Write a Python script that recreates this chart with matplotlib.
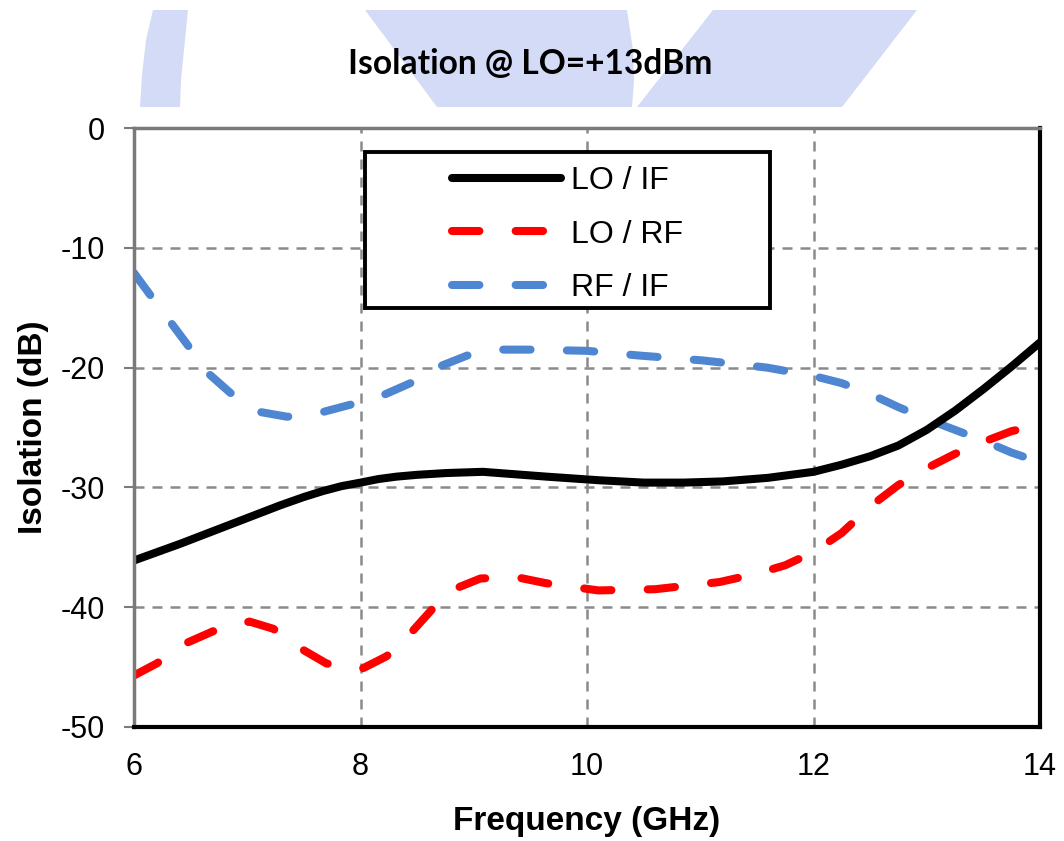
import matplotlib
matplotlib.use("Agg")
import matplotlib.pyplot as plt
from matplotlib.patches import Polygon, Rectangle

plt.rcParams["axes.unicode_minus"] = False

# data
freq_if = [6.0, 6.41, 6.85, 7.29, 7.5, 7.67, 7.83, 8.0, 8.16, 8.32, 8.5, 8.76, 9.08, 9.64, 10.1, 10.5, 10.85,
           11.2, 11.6, 12.0, 12.25, 12.5, 12.75, 13.0, 13.25, 13.5, 13.75, 14.0]
lo_if = [-36.1, -34.7, -33.1, -31.5, -30.8, -30.3, -29.9, -29.6, -29.3, -29.1, -28.95, -28.8, -28.7, -29.1, -29.4,
         -29.6, -29.6, -29.5, -29.2, -28.7, -28.1, -27.4, -26.5, -25.2, -23.6, -21.8, -19.9, -17.9]

freq_rf = [6.0, 6.2, 6.46, 6.7, 7.02, 7.23, 7.5, 7.7, 8.0, 8.23, 8.44, 8.63, 8.85, 9.06, 9.38, 9.64,
           10.1, 10.6, 11.17, 11.5, 11.75, 12.0, 12.25, 12.5, 12.75, 13.0, 13.25, 13.5, 13.75, 14.0]
lo_rf = [-45.7, -44.7, -43.0, -42.0, -41.2, -41.8, -43.6, -44.7, -45.2, -44.1, -42.2, -40.2, -38.4, -37.6, -37.5, -38.0,
         -38.6, -38.5, -37.9, -37.2, -36.5, -35.4, -33.8, -31.6, -29.8, -28.4, -27.2, -26.2, -25.3, -24.8]

freq_rfif = [6.0, 6.14, 6.33, 6.48, 6.67, 6.85, 7.11, 7.35, 7.5, 7.67, 7.91, 8.2, 8.44, 8.7, 8.94, 9.1, 9.23, 9.5,
             10.0, 10.47, 11.02, 11.59, 12.0, 12.25, 12.5, 12.75, 13.0, 13.25, 13.5, 13.75, 14.0]
rf_if = [-12.1, -13.9, -16.3, -18.2, -20.6, -22.1, -23.7, -24.1, -24.0, -23.7, -23.1, -22.3, -21.3, -19.9, -19.0,
         -18.7, -18.5, -18.5, -18.6, -19.0, -19.4, -20.0, -20.7, -21.3, -22.2, -23.3, -24.3, -25.2, -26.1, -27.1, -27.9]

x_ticks = [6, 8, 10, 12, 14]
y_ticks = [0, -10, -20, -30, -40, -50]
series_labels = ["LO / IF", "LO / RF", "RF / IF"]

W, H = 1064, 841
fig = plt.figure(figsize=(W / 100, H / 100), dpi=100)


def px(x, y):
    # pixel coords (top-left origin) -> figure fraction
    return (x / W, 1 - y / H)


# light blue logo watermark behind the title
wm = "#D3DBF7"
shapes = [
    [(153, 10), (188, 10), (184, 50), (181, 80), (180, 107), (140, 107), (142, 75), (146, 40)],
    [(365, 10), (627, 10), (633, 50), (634, 80), (632, 107), (437, 107)],
    [(713, 10), (917, 10), (842, 107), (637, 107)],
]
for pts in shapes:
    fig.add_artist(Polygon([px(*p) for p in pts], closed=True, facecolor=wm,
                           edgecolor="none", transform=fig.transFigure, zorder=0))

title = fig.text(530 / W, 1 - 74 / H, "Isolation @ LO=+13dBm", ha="center", va="baseline",
                 fontsize=25, fontweight="bold",
                 family=["Lato", "DejaVu Sans"], zorder=2)
# fit title to the reference width (~365 px)
fig.canvas.draw()
w = title.get_window_extent().width
title.set_fontsize(25 * 365 / w)

ax = fig.add_axes([134 / W, 1 - 727 / H, (1040 - 134) / W, (727 - 128) / H])

lw = 5.8
ax.plot(freq_if, lo_if, color="black", lw=lw, solid_capstyle="round", solid_joinstyle="round",
        zorder=4, label=series_labels[0])
ax.plot(freq_rf, lo_rf, color="#FF0000", lw=lw, dashes=(3.4, 4.5), dash_capstyle="round",
        dash_joinstyle="round", zorder=3, label=series_labels[1])
ax.plot(freq_rfif, rf_if, color="#4E86D2", lw=lw, dashes=(3.4, 4.5), dash_capstyle="round",
        dash_joinstyle="round", zorder=3, label=series_labels[2])

ax.set_xlim(6, 14)
ax.set_ylim(-50, 0)
ax.set_xticks(x_ticks)
ax.set_yticks(y_ticks)
ax.grid(True, color="#8a8a8a", lw=1.8, dashes=(4, 3.2))
ax.set_axisbelow(True)

for s in ["left", "top"]:
    ax.spines[s].set_color("#7a7a7a")
    ax.spines[s].set_linewidth(2.5)
for s in ["right", "bottom"]:
    ax.spines[s].set_color("black")
    ax.spines[s].set_linewidth(3)
for s in ax.spines.values():
    s.set_zorder(5)

ax.tick_params(axis="y", direction="out", length=7, width=1.5, color="#7a7a7a", pad=14)
ax.tick_params(axis="x", length=0, pad=18)
for lab in ax.get_xticklabels() + ax.get_yticklabels():
    lab.set_fontfamily("Liberation Sans")
    lab.set_fontsize(22)

ax.set_xlabel("Frequency (GHz)", fontsize=24, fontweight="bold", family="Liberation Sans", labelpad=17)
ax.set_ylabel("Isolation (dB)", fontsize=24, fontweight="bold", family="Liberation Sans", labelpad=8)

# legend box drawn separately so its size matches the reference
box = Rectangle((0.255, 0.700), 0.447, 0.260, transform=ax.transAxes, facecolor="white",
                edgecolor="black", lw=2.8, zorder=6)
ax.add_patch(box)
leg = ax.legend(loc="center", bbox_to_anchor=(0.4785, 0.822), frameon=False,
                prop={"family": "Liberation Sans", "size": 23}, handlelength=3.4,
                handletextpad=0.3, labelspacing=0.74)
leg.set_zorder(7)

fig.savefig("out.png", dpi=100)
